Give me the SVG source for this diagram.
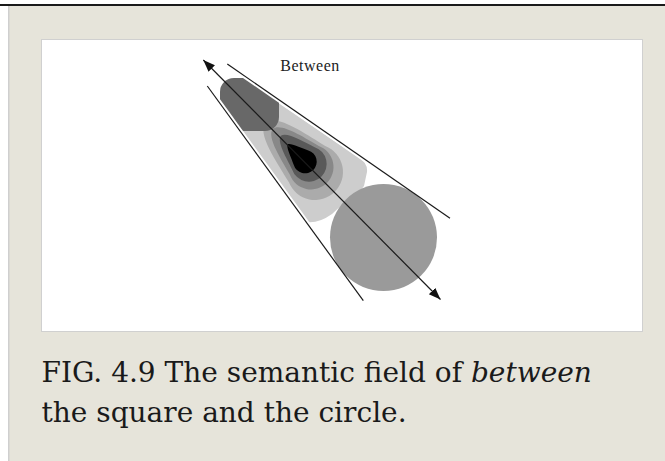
<svg xmlns="http://www.w3.org/2000/svg" width="665" height="461" viewBox="0 0 665 461">
<style>
.ln{stroke:#1a1a1a;stroke-width:1.2;fill:none}
.cap{font-family:"DejaVu Serif",serif;font-size:28px;fill:#1a1a1a}
.lbl{font-family:"Liberation Serif",serif;font-size:16px;fill:#222;letter-spacing:0.5px}
</style>
<defs>
<marker id="ah" markerUnits="userSpaceOnUse" markerWidth="14" markerHeight="10" refX="12" refY="4.5" orient="auto-start-reverse">
<path d="M0,0 L12,4.5 L0,9 Z" fill="#111"/>
</marker>
<clipPath id="strip"><polygon points="165.5,24.2 472.5,237.1 385.7,327.2"/></clipPath>
</defs>
<rect x="0" y="0" width="665" height="461" fill="#ffffff"/>
<rect x="0" y="4" width="665" height="2" fill="#1a1a1a"/>
<rect x="9" y="6" width="656" height="455" fill="#e6e4da"/>
<rect x="8" y="6" width="1.5" height="455" fill="#cfcfcf"/>
<rect x="41.5" y="39.5" width="601" height="292" fill="#ffffff" stroke="#d0d0d0" stroke-width="1"/>

<g id="field" clip-path="url(#strip)">
<path d="M 262,92 L 358,157 Q 368,163 367,172 L 364,186 Q 358,195 345,202 L 332,214 Q 318,224 306,222 Q 300,219 298,214 L 230,122 Z" fill="#cdcdcd"/>
<path transform="translate(315,172) rotate(45) scale(28)" fill="#ababab" d="M -0.4,-0.917 C -1.2,-0.72 -2.45,-0.5 -2.5,0 C -2.45,0.5 -1.2,0.72 -0.4,0.917 A 1 1 0 1 0 -0.4,-0.917 Z"/>
<path transform="translate(311,167) rotate(45) scale(22.5)" fill="#888888" d="M -0.417,-0.909 C -1.17,-0.7 -2.35,-0.46 -2.4,0 C -2.35,0.46 -1.17,0.7 -0.417,0.909 A 1 1 0 1 0 -0.417,-0.909 Z"/>
<path transform="translate(309,164) rotate(45) scale(17.7)" fill="#595959" d="M -0.444,-0.896 C -1.12,-0.67 -2.2,-0.4 -2.25,0 C -2.2,0.4 -1.12,0.67 -0.444,0.896 A 1 1 0 1 0 -0.444,-0.896 Z"/>
<path transform="translate(305,161.6) rotate(45) scale(11.7)" fill="#000000" d="M -0.476,-0.879 C -1.06,-0.6 -2.03,-0.27 -2.1,0 C -2.03,0.27 -1.06,0.6 -0.476,0.879 A 1 1 0 1 0 -0.476,-0.879 Z"/>
</g>
<g id="square" clip-path="url(#strip)">
<rect x="220" y="78" width="59" height="53" rx="14" fill="#686868"/>
</g>
<g id="circle">
<circle cx="383.5" cy="237.5" r="53.5" fill="#9a9a9a"/>
</g>
<g id="label">
<text class="lbl" x="310" y="70.5" text-anchor="middle">Between</text>
</g>
<g id="connectors">
<line class="ln" x1="227.3" y1="64" x2="450" y2="218.3"/>
<line class="ln" x1="207.3" y1="86" x2="363.3" y2="300.7"/>
<line class="ln" x1="203.3" y1="60" x2="440.5" y2="299.5" marker-start="url(#ah)" marker-end="url(#ah)"/>
</g>
<g id="caption">
<text class="cap" x="41.5" y="381.5">FIG. 4.9 The semantic field of <tspan font-style="italic">between</tspan></text>
<text class="cap" x="41.5" y="421.5">the square and the circle.</text>
</g>
</svg>
